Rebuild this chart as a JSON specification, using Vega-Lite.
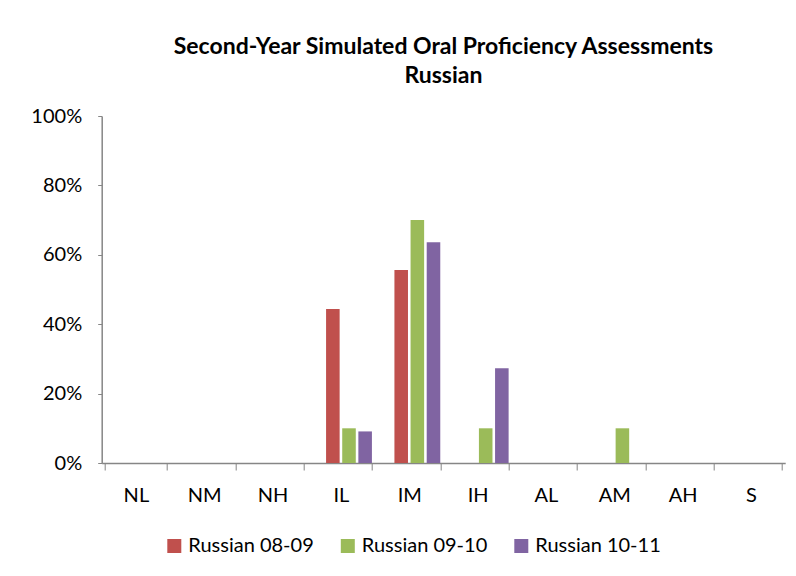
{
  "$schema": "https://vega.github.io/schema/vega-lite/v6.json",
  "width": 683.5,
  "height": 347,
  "autosize": {"type": "none"},
  "padding": {"left": 101.7, "top": 116, "right": 10.8, "bottom": 113},
  "background": "white",
  "title": {
    "text": ["Second-Year Simulated Oral Proficiency Assessments", "Russian"],
    "font": "Lato",
    "fontSize": 23,
    "fontWeight": "bold",
    "color": "#000000",
    "lineHeight": 29,
    "anchor": "middle",
    "offset": 18
  },
  "data": {
    "values": [
      {"level": "NL", "series": "Russian 08-09", "pct": 0},
      {"level": "NM", "series": "Russian 08-09", "pct": 0},
      {"level": "NH", "series": "Russian 08-09", "pct": 0},
      {"level": "IL", "series": "Russian 08-09", "pct": 0.444},
      {"level": "IM", "series": "Russian 08-09", "pct": 0.556},
      {"level": "IH", "series": "Russian 08-09", "pct": 0},
      {"level": "AL", "series": "Russian 08-09", "pct": 0},
      {"level": "AM", "series": "Russian 08-09", "pct": 0},
      {"level": "AH", "series": "Russian 08-09", "pct": 0},
      {"level": "S", "series": "Russian 08-09", "pct": 0},
      {"level": "NL", "series": "Russian 09-10", "pct": 0},
      {"level": "NM", "series": "Russian 09-10", "pct": 0},
      {"level": "NH", "series": "Russian 09-10", "pct": 0},
      {"level": "IL", "series": "Russian 09-10", "pct": 0.1},
      {"level": "IM", "series": "Russian 09-10", "pct": 0.7},
      {"level": "IH", "series": "Russian 09-10", "pct": 0.1},
      {"level": "AL", "series": "Russian 09-10", "pct": 0},
      {"level": "AM", "series": "Russian 09-10", "pct": 0.1},
      {"level": "AH", "series": "Russian 09-10", "pct": 0},
      {"level": "S", "series": "Russian 09-10", "pct": 0},
      {"level": "NL", "series": "Russian 10-11", "pct": 0},
      {"level": "NM", "series": "Russian 10-11", "pct": 0},
      {"level": "NH", "series": "Russian 10-11", "pct": 0},
      {"level": "IL", "series": "Russian 10-11", "pct": 0.091},
      {"level": "IM", "series": "Russian 10-11", "pct": 0.636},
      {"level": "IH", "series": "Russian 10-11", "pct": 0.273},
      {"level": "AL", "series": "Russian 10-11", "pct": 0},
      {"level": "AM", "series": "Russian 10-11", "pct": 0},
      {"level": "AH", "series": "Russian 10-11", "pct": 0},
      {"level": "S", "series": "Russian 10-11", "pct": 0}
    ]
  },
  "mark": {"type": "bar"},
  "encoding": {
    "x": {
      "field": "level",
      "type": "nominal",
      "sort": ["NL", "NM", "NH", "IL", "IM", "IH", "AL", "AM", "AH", "S"],
      "scale": {"paddingInner": 0.093, "paddingOuter": 0.0465},
      "axis": {
        "title": null,
        "labelAngle": 0,
        "labelFont": "Lato",
        "labelFontSize": 20,
        "labelColor": "#000000",
        "labelBaseline": "alphabetic",
        "labelPadding": 31,
        "tickBand": "extent",
        "tickSize": 7,
        "tickColor": "#868686",
        "domainColor": "#868686",
        "domainWidth": 1.5,
        "grid": false
      }
    },
    "xOffset": {
      "field": "series",
      "type": "nominal",
      "scale": {
        "domain": ["_pad", "Russian 08-09", "Russian 09-10", "Russian 10-11"],
        "paddingInner": 0.16,
        "paddingOuter": 0
      }
    },
    "y": {
      "field": "pct",
      "type": "quantitative",
      "scale": {"domain": [0, 1], "nice": false},
      "axis": {
        "title": null,
        "values": [0, 0.2, 0.4, 0.6, 0.8, 1],
        "format": ".0%",
        "labelFont": "Lato",
        "labelFontSize": 20,
        "labelColor": "#000000",
        "labelPadding": 16,
        "tickSize": 4,
        "tickColor": "#868686",
        "domainColor": "#868686",
        "domainWidth": 1.5,
        "grid": false
      }
    },
    "color": {
      "field": "series",
      "type": "nominal",
      "scale": {
        "domain": ["Russian 08-09", "Russian 09-10", "Russian 10-11"],
        "range": ["#C0504D", "#9BBB59", "#8064A2"]
      },
      "legend": {
        "title": null,
        "orient": "none",
        "legendX": 62.6,
        "legendY": 420,
        "direction": "horizontal",
        "columns": 3,
        "columnPadding": 23.5,
        "symbolType": "square",
        "symbolSize": 196,
        "symbolStrokeWidth": 0,
        "labelFont": "Lato",
        "labelFontSize": 20,
        "labelColor": "#000000",
        "labelOffset": 4
      }
    }
  },
  "config": {
    "view": {"stroke": null}
  }
}
